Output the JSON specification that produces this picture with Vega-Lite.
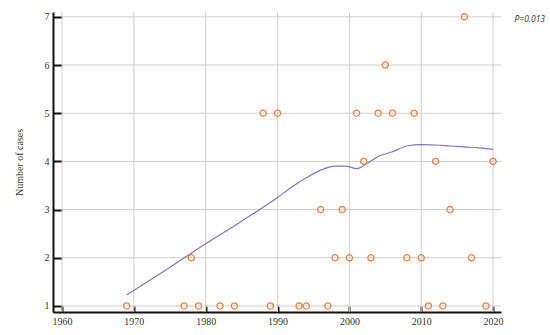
{
  "$schema": "https://vega.github.io/schema/vega-lite/v6.json",
  "autosize": {"type": "none"},
  "padding": {"left": 53, "top": 12, "right": 49, "bottom": 23},
  "width": 448,
  "height": 300,
  "background": "white",
  "config": {"view": {"stroke": null}},
  "datasets": {
    "cases": [
      {"year": 1969, "cases": 1}, {"year": 1977, "cases": 1}, {"year": 1979, "cases": 1},
      {"year": 1982, "cases": 1}, {"year": 1984, "cases": 1}, {"year": 1989, "cases": 1},
      {"year": 1993, "cases": 1}, {"year": 1994, "cases": 1}, {"year": 1997, "cases": 1},
      {"year": 2011, "cases": 1}, {"year": 2013, "cases": 1}, {"year": 2019, "cases": 1},
      {"year": 1978, "cases": 2}, {"year": 1998, "cases": 2}, {"year": 2000, "cases": 2},
      {"year": 2003, "cases": 2}, {"year": 2008, "cases": 2}, {"year": 2010, "cases": 2},
      {"year": 2017, "cases": 2},
      {"year": 1996, "cases": 3}, {"year": 1999, "cases": 3}, {"year": 2014, "cases": 3},
      {"year": 2002, "cases": 4}, {"year": 2012, "cases": 4}, {"year": 2020, "cases": 4},
      {"year": 1988, "cases": 5}, {"year": 1990, "cases": 5}, {"year": 2001, "cases": 5},
      {"year": 2004, "cases": 5}, {"year": 2006, "cases": 5}, {"year": 2009, "cases": 5},
      {"year": 2005, "cases": 6},
      {"year": 2016, "cases": 7}
    ],
    "trend": [
      {"year": 1969, "fit": 1.23}, {"year": 1975, "fit": 1.8}, {"year": 1980, "fit": 2.29},
      {"year": 1985, "fit": 2.76}, {"year": 1990, "fit": 3.25}, {"year": 1992, "fit": 3.47},
      {"year": 1994, "fit": 3.66}, {"year": 1996, "fit": 3.82}, {"year": 1998, "fit": 3.9},
      {"year": 1999.5, "fit": 3.9}, {"year": 2001, "fit": 3.85}, {"year": 2002.5, "fit": 3.96},
      {"year": 2004, "fit": 4.1}, {"year": 2006, "fit": 4.2}, {"year": 2008, "fit": 4.32},
      {"year": 2010, "fit": 4.35}, {"year": 2012, "fit": 4.34}, {"year": 2014, "fit": 4.32},
      {"year": 2016, "fit": 4.3}, {"year": 2018, "fit": 4.28}, {"year": 2020, "fit": 4.25}
    ],
    "hgrid": [{"v": 1}, {"v": 2}, {"v": 3}, {"v": 4}, {"v": 5}, {"v": 6}, {"v": 7}],
    "vgrid": [{"v": 1960}, {"v": 1970}, {"v": 1980}, {"v": 1990}, {"v": 2000}, {"v": 2010}, {"v": 2020}],
    "note": [{"year": 2025.1, "cases": 6.96, "label": "P=0.013"}]
  },
  "layer": [
    {
      "data": {"name": "hgrid"},
      "mark": {"type": "rule", "color": "#cfcfcf", "strokeWidth": 1},
      "encoding": {
        "y": {"field": "v", "type": "quantitative", "scale": {"domain": [0.875, 7.1], "nice": false, "zero": false},
          "axis": {"title": "Number of cases", "values": [1, 1.5, 2, 2.5, 3, 3.5, 4, 4.5, 5, 5.5, 6, 6.5, 7],
            "labelExpr": "datum.value % 1 ? '' : datum.label",
            "grid": false, "domainColor": "#111", "domainWidth": 2,
            "tickColor": "#111",
            "tickSize": {"condition": {"test": "datum.value % 1", "value": -5}, "value": -9},
            "tickWidth": {"condition": {"test": "datum.value % 1", "value": 1}, "value": 2},
            "labelPadding": 13, "labelFont": "Liberation Serif", "labelFontSize": 10, "labelColor": "#333",
            "titleFont": "Liberation Serif", "titleFontSize": 10, "titleFontWeight": "normal", "titleColor": "#333",
            "titlePadding": 20}},
        "x": {"datum": 1960, "type": "quantitative"},
        "x2": {"datum": 2021.1}
      }
    },
    {
      "data": {"name": "vgrid"},
      "mark": {"type": "rule", "color": "#cfcfcf", "strokeWidth": 1},
      "encoding": {
        "x": {"field": "v", "type": "quantitative", "scale": {"domain": [1958.75, 2021.1], "nice": false, "zero": false},
          "axis": {"title": null, "values": [1960, 1965, 1970, 1975, 1980, 1985, 1990, 1995, 2000, 2005, 2010, 2015, 2020],
            "labelExpr": "datum.value % 10 ? '' : datum.value",
            "grid": false, "domainColor": "#111", "domainWidth": 2,
            "tickColor": "#111",
            "tickSize": {"condition": {"test": "datum.value % 10", "value": -4}, "value": -6},
            "tickWidth": {"condition": {"test": "datum.value % 10", "value": 1}, "value": 2},
            "labelPadding": 10, "labelFont": "Liberation Serif", "labelFontSize": 10, "labelColor": "#333"}},
        "y": {"datum": 0.875, "type": "quantitative"},
        "y2": {"datum": 7.1}
      }
    },
    {
      "data": {"name": "trend"},
      "mark": {"type": "line", "color": "#7b76c6", "strokeWidth": 1.2, "interpolate": "monotone"},
      "encoding": {
        "x": {"field": "year", "type": "quantitative"},
        "y": {"field": "fit", "type": "quantitative"}
      }
    },
    {
      "data": {"name": "cases"},
      "mark": {"type": "point", "shape": "circle", "filled": false, "color": "#f0823c", "strokeWidth": 1.3, "size": 38, "opacity": 1},
      "encoding": {
        "x": {"field": "year", "type": "quantitative"},
        "y": {"field": "cases", "type": "quantitative"}
      }
    },
    {
      "data": {"name": "note"},
      "mark": {"type": "text", "font": "Open Sans", "fontStyle": "italic", "fontSize": 8.5, "color": "#333", "clip": false},
      "encoding": {
        "x": {"field": "year", "type": "quantitative"},
        "y": {"field": "cases", "type": "quantitative"},
        "text": {"field": "label"}
      }
    }
  ]
}
